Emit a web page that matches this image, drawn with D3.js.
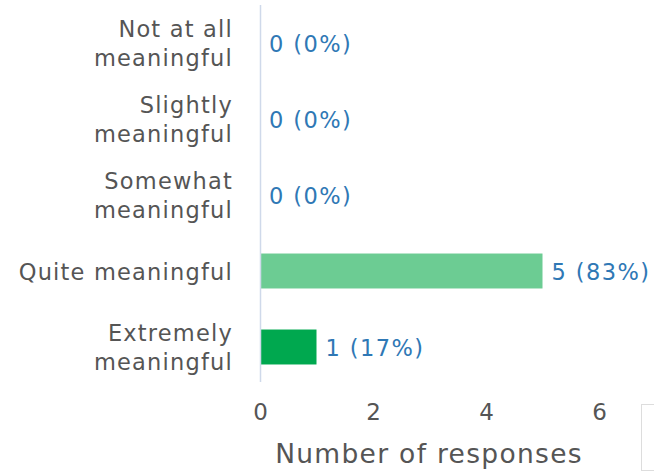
<!DOCTYPE html>
<html><head><meta charset="utf-8">
<script src="https://cdn.jsdelivr.net/npm/d3@7"></script>
<style>body{margin:0;background:#fff}svg{display:block}</style>
</head><body>
<svg id="c" width="654" height="472"></svg>
<script>
const categories = [["Not at all","meaningful"],["Slightly","meaningful"],["Somewhat","meaningful"],["Quite meaningful"],["Extremely","meaningful"]];
const values = [0,0,0,5,1];
const percents = ["0%","0%","0%","83%","17%"];
const barColors = ["#6ccc93","#6ccc93","#6ccc93","#6ccc93","#00a84f"];
const ticks = [0,2,4,6];
const xTitle = "Number of responses";

const svg = d3.select("#c");
const font = "'DejaVu Sans', sans-serif";
const x = d3.scaleLinear().domain([0,6]).range([260,599]);
const y = d3.scaleBand().domain(d3.range(categories.length)).range([5,385]).paddingInner(0.54).paddingOuter(0.27);

svg.selectAll("rect.bar").data(values).join("rect").attr("class","bar")
  .attr("x",x(0)).attr("y",(d,i)=>y(i)).attr("height",y.bandwidth())
  .attr("width",d=>x(d)-x(0)).attr("fill",(d,i)=>barColors[i]);

svg.append("line").attr("x1",x(0)+0.5).attr("x2",x(0)+0.5).attr("y1",5).attr("y2",382)
  .attr("stroke","#cfd9ea").attr("stroke-width",1.5);

categories.forEach((lines,i)=>{
  const cy = y(i)+y.bandwidth()/2;
  const t = svg.append("text").attr("text-anchor","end").attr("x",233)
    .attr("font-family",font).attr("font-size",22.5).attr("letter-spacing",1.2).attr("fill","#555");
  const lh = 28.5;
  lines.forEach((l,j)=>{
    t.append("tspan").attr("x",233).attr("y",cy + (j-(lines.length-1)/2)*lh).attr("dy","0.38em").text(l);
  });
});

svg.selectAll("text.val").data(values).join("text").attr("class","val")
  .attr("x",d=>x(d)+9).attr("y",(d,i)=>y(i)+y.bandwidth()/2).attr("dy","0.38em")
  .attr("font-family",font).attr("font-size",22.5).attr("letter-spacing",1.4).attr("fill","#2f78b5")
  .text((d,i)=>`${d} (${percents[i]})`);

const ax = svg.append("g").attr("transform","translate(0,404)")
  .call(d3.axisBottom(x).tickValues(ticks).tickFormat(d3.format("d")).tickSize(0).tickPadding(0));
ax.select(".domain").remove();
ax.selectAll("text").attr("font-family",font).attr("font-size",23).attr("fill","#555").attr("dy","0.71em");

svg.append("text").attr("x",429).attr("y",463).attr("text-anchor","middle")
  .attr("font-family",font).attr("font-size",26.5).attr("letter-spacing",1.3).attr("fill","#555").text(xTitle);

svg.append("rect").attr("x",641.5).attr("y",404.5).attr("width",20).attr("height",66)
  .attr("fill","#fff").attr("stroke","#ddd");
</script>
</body></html>
